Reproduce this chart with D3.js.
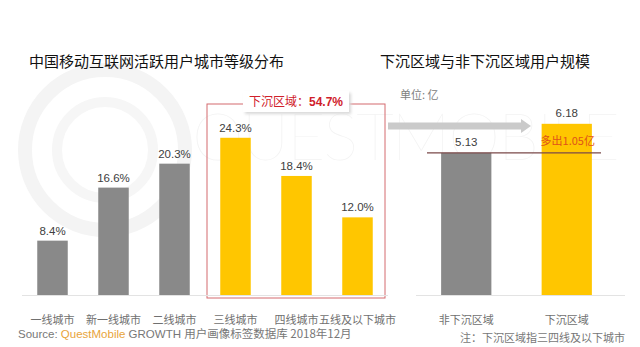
<!DOCTYPE html>
<html>
<head>
<meta charset="utf-8">
<script src="https://cdn.jsdelivr.net/npm/d3@7/dist/d3.min.js"></script>
<style>
  html, body { margin: 0; padding: 0; background: #fff; }
  svg { display: block; }
  text { font-family: "Liberation Sans", "Noto Sans CJK SC", sans-serif; }
  .cjk { font-family: "Noto Sans CJK SC", sans-serif; }
</style>
</head>
<body>
<svg id="chart" width="640" height="347"></svg>
<script>
// City-tier distribution of active mobile internet users (%)
const tierCategories = ["一线城市", "新一线城市", "二线城市", "三线城市", "四线城市", "五线及以下城市"];
const tierShares = [8.4, 16.6, 20.3, 24.3, 18.4, 12.0];
const tierSunk = [false, false, false, true, true, true];
const sunkTotal = 54.7;

// User scale, lower-tier vs. higher-tier regions (100 million)
const scaleCategories = ["非下沉区域", "下沉区域"];
const scaleValues = [5.13, 6.18];
const scaleDiffLabel = "多出1.05亿";

const GRAY = "#898989", GOLD = "#ffc600", RED = "#d0202a";

const svg = d3.select("#chart");
const baseY = 295;

// faint brand watermark
const wm = svg.append("g");
wm.append("circle").attr("cx", 105).attr("cy", 150).attr("r", 80)
  .attr("fill", "none").attr("stroke", "#f4f4f4").attr("stroke-width", 14);
wm.append("circle").attr("cx", 105).attr("cy", 150).attr("r", 48)
  .attr("fill", "none").attr("stroke", "#f6f6f6").attr("stroke-width", 10);
wm.append("text").attr("x", 192).attr("y", 160)
  .attr("font-size", 66).attr("font-weight", 200)
  .attr("textLength", 428).attr("lengthAdjust", "spacing")
  .attr("fill", "#f3f3f3").style("font-family", "Lato, 'Open Sans', sans-serif")
  .text("QUESTMOBILE");

// titles
svg.append("text").attr("class", "cjk").attr("x", 29).attr("y", 67)
  .attr("font-size", 15).attr("font-weight", 400).attr("fill", "#111")
  .text("中国移动互联网活跃用户城市等级分布");
svg.append("text").attr("class", "cjk").attr("x", 380).attr("y", 67)
  .attr("font-size", 15).attr("font-weight", 400).attr("fill", "#111")
  .text("下沉区域与非下沉区域用户规模");

// ---- left chart ----
const x1 = d3.scaleBand().domain(tierCategories).range([22, 388])
  .paddingInner(0.5).paddingOuter(0.25);
const y1 = d3.scaleLinear().domain([0, 25]).range([baseY, baseY - 25 * 6.47]);

// red highlight frame around lower-tier bars
const fx0 = 207, fx1 = 385, fy0 = 104, fy1 = 298;
svg.append("rect").attr("x", fx0).attr("y", fy0).attr("width", fx1 - fx0).attr("height", fy1 - fy0)
  .attr("fill", "none").attr("stroke", "#d46a6f").attr("stroke-width", 1);

// baseline
svg.append("line").attr("x1", 22).attr("x2", 388).attr("y1", baseY + 0.5).attr("y2", baseY + 0.5)
  .attr("stroke", "#e3e3e3").attr("stroke-width", 1);

svg.append("g").selectAll("rect").data(tierCategories).join("rect")
  .attr("x", d => x1(d)).attr("width", x1.bandwidth())
  .attr("y", (d, i) => y1(tierShares[i]))
  .attr("height", (d, i) => baseY - y1(tierShares[i]))
  .attr("fill", (d, i) => tierSunk[i] ? GOLD : GRAY);

svg.append("g").selectAll("text").data(tierCategories).join("text")
  .attr("x", d => x1(d) + x1.bandwidth() / 2)
  .attr("y", (d, i) => y1(tierShares[i]) - 6)
  .attr("text-anchor", "middle").attr("font-size", 11.5).attr("fill", "#404040")
  .text((d, i) => tierShares[i].toFixed(1) + "%");

const ax1 = svg.append("g").attr("transform", `translate(0,${baseY})`)
  .call(d3.axisBottom(x1).tickSize(0).tickPadding(21));
ax1.select(".domain").remove();
ax1.selectAll("text").attr("font-size", 11).attr("fill", "#707070")
  .style("font-family", "'Noto Sans CJK SC', sans-serif");

// callout label on top of frame
const lbl = svg.append("g");
lbl.append("rect").attr("x", 243).attr("y", 91).attr("width", 106).attr("height", 21)
  .attr("fill", "#d8d8d8").attr("transform", "translate(2,2)").style("filter", "blur(1.5px)");
lbl.append("rect").attr("x", 243).attr("y", 91).attr("width", 106).attr("height", 21).attr("fill", "#fff");
const lt = lbl.append("text").attr("x", 296).attr("y", 106).attr("text-anchor", "middle")
  .attr("font-size", 12).attr("fill", RED);
lt.append("tspan").style("font-family", "'Noto Sans CJK SC', sans-serif").text("下沉区域：");
lt.append("tspan").attr("font-weight", "bold").text(sunkTotal.toFixed(1) + "%");

// ---- connecting arrow ----
svg.append("line").attr("x1", 388).attr("x2", 522).attr("y1", 126).attr("y2", 126)
  .attr("stroke", "#cacaca").attr("stroke-width", 7);
svg.append("path").attr("d", "M521,119 L531,126 L521,133 Z").attr("fill", "#cacaca");

// ---- right chart ----
svg.append("text").attr("class", "cjk").attr("x", 400).attr("y", 99)
  .attr("font-size", 11).attr("fill", "#808080").text("单位: 亿");

const x2 = d3.scaleBand().domain(scaleCategories).range([416, 617])
  .paddingInner(0.5).paddingOuter(0.25);
const y2 = d3.scaleLinear().domain([0, 7]).range([baseY, baseY - 7 * 27.7]);

svg.append("line").attr("x1", 416).attr("x2", 625).attr("y1", baseY + 0.5).attr("y2", baseY + 0.5)
  .attr("stroke", "#e3e3e3").attr("stroke-width", 1);

svg.append("g").selectAll("rect").data(scaleCategories).join("rect")
  .attr("x", d => x2(d)).attr("width", x2.bandwidth())
  .attr("y", (d, i) => y2(scaleValues[i]))
  .attr("height", (d, i) => baseY - y2(scaleValues[i]))
  .attr("fill", (d, i) => i === 1 ? GOLD : GRAY);

svg.append("g").selectAll("text").data(scaleCategories).join("text")
  .attr("x", d => x2(d) + x2.bandwidth() / 2)
  .attr("y", (d, i) => y2(scaleValues[i]) - 7)
  .attr("text-anchor", "middle").attr("font-size", 11.5).attr("fill", "#404040")
  .text((d, i) => scaleValues[i].toFixed(2));

// reference line at the smaller value
svg.append("line").attr("x1", 427).attr("x2", 601)
  .attr("y1", y2(scaleValues[0])).attr("y2", y2(scaleValues[0]))
  .attr("stroke", "#7a4848").attr("stroke-width", 1.3);

svg.append("text").attr("class", "cjk")
  .attr("x", x2(scaleCategories[1]) + x2.bandwidth() / 2 + 1)
  .attr("y", y2(scaleValues[0]) - 8)
  .attr("text-anchor", "middle").attr("font-size", 11).attr("fill", "#e0531a")
  .text(scaleDiffLabel);

const ax2 = svg.append("g").attr("transform", `translate(0,${baseY})`)
  .call(d3.axisBottom(x2).tickSize(0).tickPadding(21));
ax2.select(".domain").remove();
ax2.selectAll("text").attr("font-size", 11).attr("fill", "#707070")
  .style("font-family", "'Noto Sans CJK SC', sans-serif");

// footer
const src = svg.append("text").attr("x", 18).attr("y", 338).attr("font-size", 11.5).attr("fill", "#777");
src.append("tspan").text("Source:   ");
src.append("tspan").attr("fill", "#e8a43a").text("QuestMobile");
src.append("tspan").text(" GROWTH ");
src.append("tspan").style("font-family", "'Noto Sans CJK SC', sans-serif").text("用户画像标签数据库 2018年12月");

svg.append("text").attr("class", "cjk").attr("x", 625).attr("y", 342).attr("text-anchor", "end")
  .attr("font-size", 11).attr("fill", "#777").text("注：下沉区域指三四线及以下城市");
</script>
</body>
</html>
